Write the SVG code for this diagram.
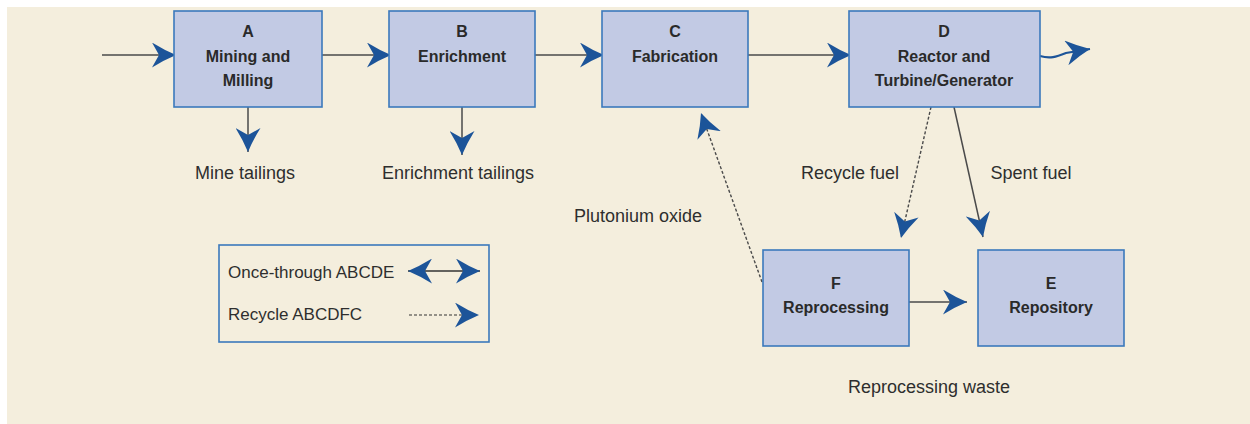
<svg xmlns="http://www.w3.org/2000/svg" width="1250" height="424" viewBox="0 0 1250 424">
<defs>
<style>
.box{fill:#C2CAE4;stroke:#3B79BC;stroke-width:1.6}
.lbl{font-family:"Liberation Sans",Arial,sans-serif;font-size:16px;font-weight:bold;fill:#2a2a2a;text-anchor:middle}
.txt{font-family:"Liberation Sans",Arial,sans-serif;font-size:18px;fill:#2e2e2e;text-anchor:middle}
.leg{font-family:"Liberation Sans",Arial,sans-serif;font-size:17px;fill:#2e2e2e}
.ln{fill:none;stroke:#4a4a4a;stroke-width:1.5;marker-end:url(#ah)}
.dt{fill:none;stroke:#4a4a4a;stroke-width:1.4;stroke-dasharray:3 2;marker-end:url(#ah)}
</style>
<marker id="ah" markerUnits="userSpaceOnUse" viewBox="0 0 24 25" markerWidth="24" markerHeight="25" refX="24" refY="12.5" orient="auto-start-reverse">
<path d="M24,12.5 Q12,7.5 0,0 L7,12.5 L0,25 Q12,17.5 24,12.5 Z" fill="#1C5499"/>
</marker>
</defs>
<rect x="7" y="7" width="1243" height="417" fill="#F4EEDD"/>

<g id="connectors">
<line class="ln" x1="102" y1="55" x2="176" y2="55"/>
<line class="ln" x1="322" y1="55" x2="391" y2="55"/>
<line class="ln" x1="535" y1="55" x2="604" y2="55"/>
<line class="ln" x1="748" y1="55" x2="851" y2="55"/>
<path d="M1040,56 C1050,59 1056,57 1066,53 L1090,49" fill="none" stroke="#1C5499" stroke-width="2.2" marker-end="url(#ah)"/>
<line class="ln" x1="248" y1="107" x2="248" y2="152"/>
<line class="ln" x1="462" y1="107" x2="462" y2="155"/>
<line class="dt" x1="931" y1="107" x2="901" y2="238"/>
<line class="ln" x1="954" y1="107" x2="983" y2="237"/>
<line class="dt" x1="762" y1="282" x2="701" y2="113"/>
<line class="ln" x1="909" y1="302" x2="967" y2="302"/>
</g>

<g id="nodeA"><rect class="box" x="174" y="11" width="148" height="96"/>
<text class="lbl" x="248" y="37">A</text><text class="lbl" x="248" y="62">Mining and</text><text class="lbl" x="248" y="86">Milling</text></g>
<g id="nodeB"><rect class="box" x="389" y="11" width="146" height="96"/>
<text class="lbl" x="462" y="37">B</text><text class="lbl" x="462" y="62">Enrichment</text></g>
<g id="nodeC"><rect class="box" x="602" y="11" width="146" height="96"/>
<text class="lbl" x="675" y="37">C</text><text class="lbl" x="675" y="62">Fabrication</text></g>
<g id="nodeD"><rect class="box" x="849" y="11" width="191" height="96"/>
<text class="lbl" x="944" y="37">D</text><text class="lbl" x="944" y="62">Reactor and</text><text class="lbl" x="944" y="86">Turbine/Generator</text></g>
<g id="nodeF"><rect class="box" x="763" y="250" width="146" height="96"/>
<text class="lbl" x="836" y="289">F</text><text class="lbl" x="836" y="313">Reprocessing</text></g>
<g id="nodeE"><rect class="box" x="978" y="250" width="146" height="96"/>
<text class="lbl" x="1051" y="289">E</text><text class="lbl" x="1051" y="313">Repository</text></g>

<g id="labels">
<text class="txt" x="245" y="179">Mine tailings</text>
<text class="txt" x="458" y="179">Enrichment tailings</text>
<text class="txt" x="638" y="222">Plutonium oxide</text>
<text class="txt" x="850" y="179">Recycle fuel</text>
<text class="txt" x="1031" y="179">Spent fuel</text>
<text class="txt" x="929" y="393">Reprocessing waste</text>
</g>

<g id="legend">
<rect x="219" y="245" width="270" height="97" fill="none" stroke="#3B79BC" stroke-width="1.6"/>
<text class="leg" x="228" y="278">Once-through ABCDE</text>
<text class="leg" x="228" y="320">Recycle ABCDFC</text>
<line x1="408" y1="271" x2="480" y2="271" stroke="#333" stroke-width="1.3" marker-start="url(#ah)" marker-end="url(#ah)"/>
<line x1="409" y1="315" x2="479" y2="315" stroke="#333" stroke-width="1.2" stroke-dasharray="3 2" marker-end="url(#ah)"/>
</g>
</svg>
